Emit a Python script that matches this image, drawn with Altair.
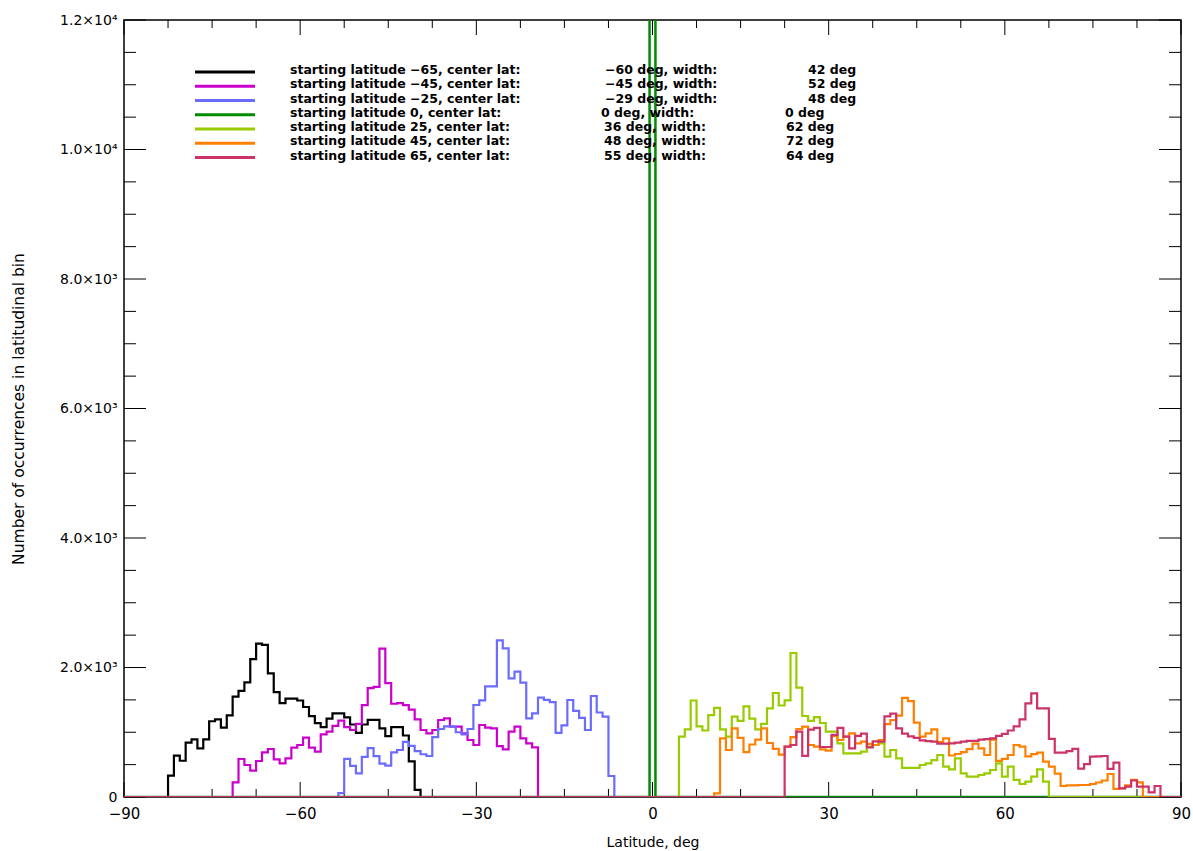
import altair as alt
import pandas as pd

# ---- histogram data: counts per 1-degree latitude bin (bin centres) ----
start_lats = [-65, -45, -25, 0, 25, 45, 65]
center_lats = [-60, -45, -29, 0, 36, 48, 55]
band_widths = [42, 52, 48, 0, 62, 72, 64]
colors = ["#000000", "#CC00CC", "#6B6BFF", "#008C00", "#99CC00", "#FF8000", "#CC3366"]

first_bins = [-82, -71, -53, 0, 5, 11, 23]

counts_m65 = [330, 640, 560, 840, 890, 750, 890, 1170, 1200, 1070, 1260, 1550, 1640,
              1770, 2130, 2370, 2350, 1910, 1620, 1450, 1520, 1520, 1490, 1390, 1250,
              1140, 1080, 1210, 1290, 1290, 1230, 1120, 990, 1120, 1190, 1190, 1060,
              940, 1080, 1080, 950, 550, 110]
counts_m45 = [227, 587, 494, 407, 556, 690, 741, 582, 520, 597, 762, 803, 916, 762, 700,
              968, 1009, 1100, 1179, 1080, 1035, 1130, 1420, 1680, 1700, 2290, 1760,
              1440, 1450, 1420, 1350, 1200, 1035, 983, 1035, 1189, 1215, 1086, 1086,
              983, 880, 803, 1112, 1071, 1060, 787, 736, 1009, 1086, 906, 829, 767]
counts_m25 = [60, 590, 480, 365, 620, 755, 630, 515, 485, 690, 726, 850, 790, 710, 660,
              633, 925, 1050, 1090, 1086, 1000, 965, 1050, 1421, 1493, 1710, 1710, 2420,
              2296, 1833, 1936, 1766, 1215, 1292, 1536, 1500, 1465, 990, 1105, 1498,
              1330, 1222, 1035, 1560, 1305, 1241, 324]
counts_0 = [20000]
counts_p25 = [932, 1045, 1490, 1090, 1027, 1266, 1375, 1045, 932, 1241, 1177, 1400, 1210,
              1045, 1130, 1369, 1606, 1413, 1493, 2224, 1690, 1251, 1176, 1235, 1143,
              1009, 1009, 829, 674, 674, 674, 700, 777, 803, 829, 623, 726, 597, 450,
              450, 450, 494, 520, 571, 649, 468, 427, 597, 366, 314, 314, 340, 366, 417,
              520, 314, 468, 263, 201, 237, 314, 427, 237]
counts_p45 = [57, 906, 726, 1060, 913, 692, 811, 885, 1060, 834, 744, 654, 777, 924, 1050,
              1086, 803, 777, 736, 716, 942, 880, 932, 983, 829, 855, 819, 803, 880, 1125,
              1189, 1258, 1530, 1480, 1150, 932, 983, 1045, 847, 906, 641, 664, 692, 739,
              824, 752, 649, 885, 558, 590, 649, 803, 778, 628, 662, 685, 546, 468, 360,
              170, 178, 180, 185, 185, 201, 224, 255, 355, 125, 137, 180, 263, 225]
counts_p65 = [777, 803, 1009, 636, 1040, 1068, 772, 772, 958, 1068, 932, 752, 945, 978,
              765, 860, 855, 1246, 1287, 1060, 978, 937, 914, 873, 862, 855, 824, 824,
              829, 839, 855, 868, 868, 885, 893, 906, 945, 976, 1027, 1092, 1200, 1447,
              1601, 1369, 1369, 898, 685, 685, 710, 744, 437, 507, 623, 628, 633, 435,
              530, 134, 160, 255, 160, 160, 70, 170]

all_counts = [counts_m65, counts_m45, counts_m25, counts_0, counts_p25, counts_p45, counts_p65]

# axis ticks
x_major = [-90, -60, -30, 0, 30, 60, 90]
x_minor = [-90 + 7.5 * k for k in range(25)]
y_major = [0, 2000, 4000, 6000, 8000, 10000, 12000]
y_minor = [500 * k for k in range(25)]
y_labels = ["0", "2.0×10³", "4.0×10³", "6.0×10³", "8.0×10³", "1.0×10⁴", "1.2×10⁴"]

W, H = 1057, 777
FONT = "DejaVu Sans"

# full -90..90 step series, zero outside each band
rows = []
for k, (fb, cnts) in enumerate(zip(first_bins, all_counts)):
    for lat in range(-90, 91):
        i = lat - fb
        val = cnts[i] if 0 <= i < len(cnts) else 0
        rows.append({"lat": lat, "count": val, "series": k})
hist = pd.DataFrame(rows)

xs = alt.Scale(domain=[-90, 90], nice=False, zero=False)
ys = alt.Scale(domain=[0, 12000], nice=False, zero=True)

label_expr = "[" + ",".join("'%s'" % s for s in y_labels) + "][round(datum.value/2000)]"

# frame with labels (ticks drawn separately, pointing inward)
base = alt.Chart(pd.DataFrame({"lat": [-90, 90], "count": [0, 12000]})).mark_point(opacity=0).encode(
    x=alt.X("lat:Q", scale=xs, axis=alt.Axis(
        values=x_major, ticks=False, domain=False, grid=False, labelPadding=9,
        labelFontSize=15, labelFont=FONT, labelColor="black", labelFlush=False,
        title="Latitude, deg", titleFont=FONT, titleFontSize=14, titleFontWeight="normal",
        titleColor="black", titleY=45, titleBaseline="middle")),
    y=alt.Y("count:Q", scale=ys, axis=alt.Axis(
        values=y_major, ticks=False, domain=False, grid=False, labelPadding=7,
        labelExpr=label_expr, labelFontSize=14, labelFont=FONT, labelColor="black",
        labelFlush=False,
        title="Number of occurrences in latitudinal bin", titleFont=FONT, titleFontSize=15.5,
        titleFontWeight="normal", titleColor="black", titleX=-106, titleY=H / 2,
        titleAlign="center", titleBaseline="middle")),
)

layers = [base]

# inward tick marks on all four sides
def xticks(vals, length):
    d = pd.DataFrame({"lat": vals})
    bot = alt.Chart(d).mark_rule(color="black", strokeWidth=1).encode(
        x=alt.X("lat:Q", scale=xs), y=alt.value(H), y2=alt.value(H - length))
    top = alt.Chart(d).mark_rule(color="black", strokeWidth=1).encode(
        x=alt.X("lat:Q", scale=xs), y=alt.value(0), y2=alt.value(length))
    return [bot, top]

def yticks(vals, length):
    d = pd.DataFrame({"count": vals})
    left = alt.Chart(d).mark_rule(color="black", strokeWidth=1).encode(
        y=alt.Y("count:Q", scale=ys), x=alt.value(0), x2=alt.value(length))
    right = alt.Chart(d).mark_rule(color="black", strokeWidth=1).encode(
        y=alt.Y("count:Q", scale=ys), x=alt.value(W), x2=alt.value(W - length))
    return [left, right]

layers += xticks([v for v in x_minor if v not in x_major], 8)
layers += xticks(x_major, 15)
layers += yticks([v for v in y_minor if v not in y_major], 12)
layers += yticks(y_major, 22)

# step histograms, drawn in series order
for k, col in enumerate(colors):
    layers.append(
        alt.Chart(hist).transform_filter(alt.datum.series == k).mark_line(
            interpolate="step", color=col, strokeWidth=2.5 if k == 3 else 2.2, clip=True).encode(
            x=alt.X("lat:Q", scale=xs), y=alt.Y("count:Q", scale=ys))
    )

# legend
def fmt(v):
    return ("−%d" % -v) if v < 0 else "%d" % v

leg_rows = []
for k in range(len(colors)):
    leg_rows.append({
        "k": k,
        "ly": 52 + 14.25 * k,
        "ty": 50 + 14.25 * k,
        "t1": "starting latitude %s, center lat:" % fmt(start_lats[k]),
        "t2": "%s deg, width:" % fmt(center_lats[k]),
        "t3": "%d deg" % band_widths[k],
    })
leg = pd.DataFrame(leg_rows)

for k, col in enumerate(colors):
    layers.append(alt.Chart(leg).transform_filter(alt.datum.k == k).mark_rule(
        color=col, strokeWidth=3).encode(
        x=alt.value(71), x2=alt.value(131), y=alt.Y("ly:Q", scale=None)))

col2_x = [481, 481, 481, 477, 480, 480, 480]
col3_x = [684, 684, 684, 661, 662, 662, 662]
for k in range(len(colors)):
    sub = alt.Chart(leg).transform_filter(alt.datum.k == k)
    txt = dict(font=FONT, fontSize=12.5, fontWeight="bold", color="black",
               align="left", baseline="middle")
    layers.append(sub.mark_text(**txt).encode(x=alt.value(166), y=alt.Y("ty:Q", scale=None), text="t1:N"))
    layers.append(sub.mark_text(**txt).encode(x=alt.value(col2_x[k]), y=alt.Y("ty:Q", scale=None), text="t2:N"))
    layers.append(sub.mark_text(**txt).encode(x=alt.value(col3_x[k]), y=alt.Y("ty:Q", scale=None), text="t3:N"))

chart = alt.layer(*layers).properties(
    width=W, height=H,
    padding={"left": 124, "top": 20, "right": 12, "bottom": 54},
    autosize=alt.AutoSizeParams(type="none"),
    background="white",
).configure_view(stroke="black", strokeWidth=1.5)

chart.save("out.html", embed_options={"renderer": "svg", "actions": False})
